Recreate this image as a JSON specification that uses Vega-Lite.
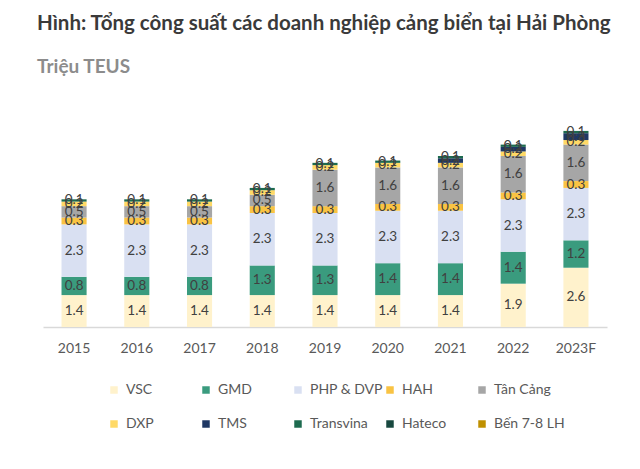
{
  "$schema": "https://vega.github.io/schema/vega-lite/v6.json",
  "autosize": {"type": "none"},
  "width": 564,
  "height": 228,
  "padding": {"left": 43, "top": 99, "right": 33, "bottom": 142},
  "background": "white",
  "config": {"view": {"stroke": null}, "font": "Lato"},
  "title": {
    "text": "Hình: Tổng công suất các doanh nghiệp cảng biển tại Hải Phòng",
    "subtitle": "Triệu TEUS",
    "anchor": "start",
    "frame": "group",
    "dx": -6,
    "offset": 22,
    "font": "Lato",
    "fontSize": 20.5,
    "fontWeight": "bold",
    "color": "#3a3a3a",
    "subtitleFont": "Lato",
    "subtitleFontSize": 19,
    "subtitleFontWeight": "bold",
    "subtitleColor": "#8c8c8c",
    "subtitlePadding": 24
  },
  "data": {
    "values": [
      {"year": "2015", "company": "VSC", "value": 1.4, "order": 1},
      {"year": "2015", "company": "GMD", "value": 0.8, "order": 2},
      {"year": "2015", "company": "PHP & DVP", "value": 2.3, "order": 3},
      {"year": "2015", "company": "HAH", "value": 0.3, "order": 4},
      {"year": "2015", "company": "Tân Cảng", "value": 0.5, "order": 5},
      {"year": "2015", "company": "DXP", "value": 0.2, "order": 6},
      {"year": "2015", "company": "Transvina", "value": 0.1, "order": 8},
      {"year": "2016", "company": "VSC", "value": 1.4, "order": 1},
      {"year": "2016", "company": "GMD", "value": 0.8, "order": 2},
      {"year": "2016", "company": "PHP & DVP", "value": 2.3, "order": 3},
      {"year": "2016", "company": "HAH", "value": 0.3, "order": 4},
      {"year": "2016", "company": "Tân Cảng", "value": 0.5, "order": 5},
      {"year": "2016", "company": "DXP", "value": 0.2, "order": 6},
      {"year": "2016", "company": "Transvina", "value": 0.1, "order": 8},
      {"year": "2017", "company": "VSC", "value": 1.4, "order": 1},
      {"year": "2017", "company": "GMD", "value": 0.8, "order": 2},
      {"year": "2017", "company": "PHP & DVP", "value": 2.3, "order": 3},
      {"year": "2017", "company": "HAH", "value": 0.3, "order": 4},
      {"year": "2017", "company": "Tân Cảng", "value": 0.5, "order": 5},
      {"year": "2017", "company": "DXP", "value": 0.2, "order": 6},
      {"year": "2017", "company": "Transvina", "value": 0.1, "order": 8},
      {"year": "2018", "company": "VSC", "value": 1.4, "order": 1},
      {"year": "2018", "company": "GMD", "value": 1.3, "order": 2},
      {"year": "2018", "company": "PHP & DVP", "value": 2.3, "order": 3},
      {"year": "2018", "company": "HAH", "value": 0.3, "order": 4},
      {"year": "2018", "company": "Tân Cảng", "value": 0.5, "order": 5},
      {"year": "2018", "company": "DXP", "value": 0.2, "order": 6},
      {"year": "2018", "company": "Transvina", "value": 0.1, "order": 8},
      {"year": "2019", "company": "VSC", "value": 1.4, "order": 1},
      {"year": "2019", "company": "GMD", "value": 1.3, "order": 2},
      {"year": "2019", "company": "PHP & DVP", "value": 2.3, "order": 3},
      {"year": "2019", "company": "HAH", "value": 0.3, "order": 4},
      {"year": "2019", "company": "Tân Cảng", "value": 1.6, "order": 5},
      {"year": "2019", "company": "DXP", "value": 0.2, "order": 6},
      {"year": "2019", "company": "Transvina", "value": 0.1, "order": 8},
      {"year": "2020", "company": "VSC", "value": 1.4, "order": 1},
      {"year": "2020", "company": "GMD", "value": 1.4, "order": 2},
      {"year": "2020", "company": "PHP & DVP", "value": 2.3, "order": 3},
      {"year": "2020", "company": "HAH", "value": 0.3, "order": 4},
      {"year": "2020", "company": "Tân Cảng", "value": 1.6, "order": 5},
      {"year": "2020", "company": "DXP", "value": 0.2, "order": 6},
      {"year": "2020", "company": "Transvina", "value": 0.1, "order": 8},
      {"year": "2021", "company": "VSC", "value": 1.4, "order": 1},
      {"year": "2021", "company": "GMD", "value": 1.4, "order": 2},
      {"year": "2021", "company": "PHP & DVP", "value": 2.3, "order": 3},
      {"year": "2021", "company": "HAH", "value": 0.3, "order": 4},
      {"year": "2021", "company": "Tân Cảng", "value": 1.6, "order": 5},
      {"year": "2021", "company": "DXP", "value": 0.2, "order": 6},
      {"year": "2021", "company": "TMS", "value": 0.2, "order": 7},
      {"year": "2021", "company": "Transvina", "value": 0.1, "order": 8},
      {"year": "2022", "company": "VSC", "value": 1.9, "order": 1},
      {"year": "2022", "company": "GMD", "value": 1.4, "order": 2},
      {"year": "2022", "company": "PHP & DVP", "value": 2.3, "order": 3},
      {"year": "2022", "company": "HAH", "value": 0.3, "order": 4},
      {"year": "2022", "company": "Tân Cảng", "value": 1.6, "order": 5},
      {"year": "2022", "company": "DXP", "value": 0.2, "order": 6},
      {"year": "2022", "company": "TMS", "value": 0.2, "order": 7},
      {"year": "2022", "company": "Transvina", "value": 0.1, "order": 8},
      {"year": "2023F", "company": "VSC", "value": 2.6, "order": 1},
      {"year": "2023F", "company": "GMD", "value": 1.2, "order": 2},
      {"year": "2023F", "company": "PHP & DVP", "value": 2.3, "order": 3},
      {"year": "2023F", "company": "HAH", "value": 0.3, "order": 4},
      {"year": "2023F", "company": "Tân Cảng", "value": 1.6, "order": 5},
      {"year": "2023F", "company": "DXP", "value": 0.2, "order": 6},
      {"year": "2023F", "company": "TMS", "value": 0.3, "order": 7},
      {"year": "2023F", "company": "Transvina", "value": 0.1, "order": 8}
    ]
  },
  "transform": [
    {"stack": "value", "groupby": ["year"], "sort": [{"field": "order", "order": "ascending"}], "as": ["v0", "v1"]},
    {"calculate": "(datum.v0 + datum.v1) / 2", "as": "mid"}
  ],
  "encoding": {
    "x": {
      "field": "year",
      "type": "nominal",
      "sort": null,
      "scale": {"paddingInner": 0.6, "paddingOuter": 0.295},
      "axis": {
        "title": null,
        "labelAngle": 0,
        "ticks": false,
        "domainColor": "#d9d9d9",
        "domainWidth": 1.5,
        "labelFont": "Lato",
        "labelFontSize": 14,
        "labelColor": "#595959",
        "labelPadding": 14
      }
    }
  },
  "layer": [
    {
      "mark": {"type": "bar"},
      "encoding": {
        "y": {"field": "v0", "type": "quantitative", "scale": {"domain": [0, 10]}, "axis": null},
        "y2": {"field": "v1"},
        "color": {
          "field": "company",
          "type": "nominal",
          "scale": {
            "domain": ["VSC", "GMD", "PHP & DVP", "HAH", "Tân Cảng", "DXP", "TMS", "Transvina", "Hateco", "Bến 7-8 LH"],
            "range": ["#FFF2CC", "#3A9B7E", "#D9E0F2", "#F9C343", "#A6A6A6", "#FFD966", "#1F3864", "#1D6B4F", "#17483F", "#BF9000"]
          },
          "legend": {
            "title": null,
            "orient": "none",
            "legendX": 64,
            "legendY": 284,
            "direction": "horizontal",
            "columns": 5,
            "gridAlign": "all",
            "columnPadding": -3,
            "rowPadding": 20,
            "symbolType": "square",
            "symbolSize": 56,
            "symbolStrokeWidth": 0,
            "labelFont": "Lato",
            "labelFontSize": 14,
            "labelColor": "#595959",
            "labelOffset": 5
          }
        }
      }
    },
    {
      "mark": {"type": "text", "font": "Lato", "fontSize": 13.5, "color": "#404040", "baseline": "middle"},
      "encoding": {
        "y": {"field": "mid", "type": "quantitative"},
        "text": {"field": "value", "type": "quantitative", "format": ".1f"}
      }
    }
  ]
}
